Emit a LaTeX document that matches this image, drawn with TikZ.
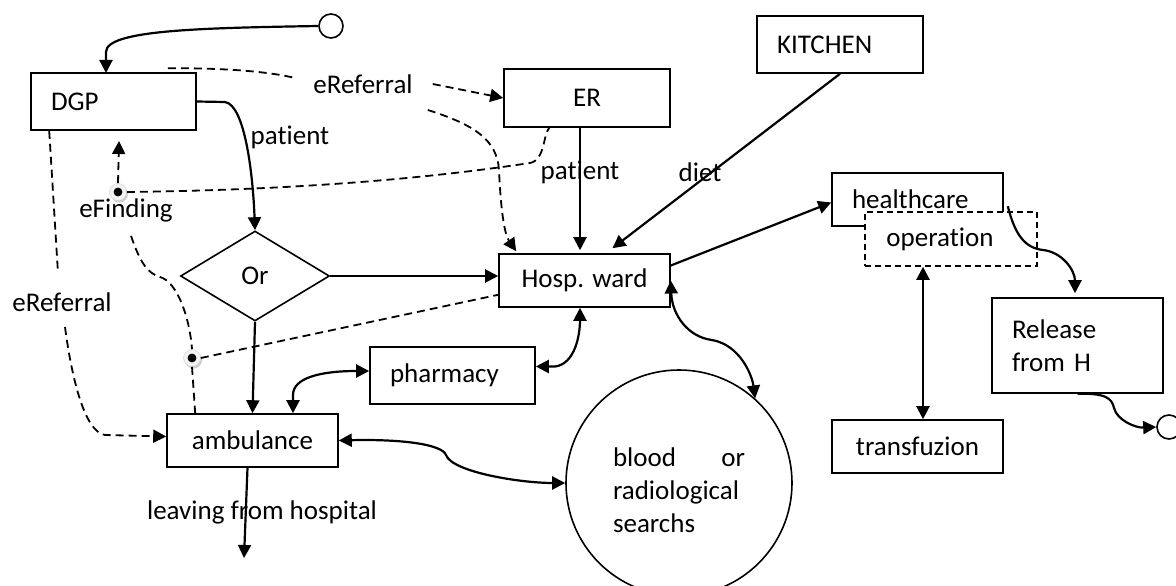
\documentclass[tikz,border=0pt]{standalone}
\usepackage{fontspec}
\setmainfont{Carlito}[Ligatures=NoCommon]
\usetikzlibrary{arrows.meta,shapes.geometric,calc}

\tikzset{
  tri/.tip={Triangle[length=13pt,width=13pt]},
  every node/.style={font=\fontsize{27}{33}\selectfont},
  box/.style={draw,line width=1.6pt,rectangle,inner sep=0pt,align=center},
  lbox/.style={draw,line width=1.6pt,rectangle,inner xsep=20pt,inner ysep=0pt,align=left},
  lab/.style={inner sep=2pt},
  conn/.style={line width=2.2pt,-tri},
  biconn/.style={line width=2.2pt,tri-tri},
  dline/.style={line width=1.8pt,dash pattern=on 8pt off 5pt},
  darr/.style={dline,-tri},
  dotn/.style={circle,inner sep=0pt,minimum size=17pt,fill=gray!10,draw=gray!30,line width=0.6pt,
    path picture={\fill[black] (path picture bounding box.center) circle (4.4pt);}},
  term/.style={circle,draw,line width=1.6pt,minimum size=24pt,inner sep=0pt}
}

\begin{document}
\begin{tikzpicture}[x=1pt,y=-1pt]
\useasboundingbox (0,0) rectangle (1176,586);

% boxes
\node[lbox,minimum width=165pt,minimum height=57pt,text width=125pt] (DGP) at (113.5,101.5) {DGP};
\node[box,minimum width=166pt,minimum height=58pt] (ER) at (587,98) {ER};
\node[lbox,minimum width=166pt,minimum height=57pt,text width=126pt] (KIT) at (840,44.5) {KITCHEN};
\node[lbox,minimum width=171pt,minimum height=53pt,text width=131pt] (hc) at (917.5,199.5) {healthcare};
\node[box,dash pattern=on 6pt off 4pt,fill=white,minimum width=172pt,minimum height=54pt] (op) at (951,239) {operation\hspace*{22pt}};
\node[lbox,minimum width=171pt,minimum height=95pt,text width=131pt] (rel) at (1077.5,345.5) {Release\\from H};
\node[box,minimum width=171pt,minimum height=53pt] (tr) at (917.5,446.5) {transfuzion};
\node[box,minimum width=171pt,minimum height=53pt] (Hosp) at (584.5,280.5) {Hosp. ward};
\node[lbox,minimum width=165pt,minimum height=57pt,text width=125pt] (ph) at (452.5,375.5) {pharmacy};
\node[box,minimum width=171pt,minimum height=53pt] (amb) at (252.5,440.5) {ambulance};
\node[draw,diamond,line width=1.6pt,inner sep=0pt,minimum width=149pt,minimum height=90pt] (Or) at (255,276) {Or};
\node[draw,circle,line width=1.6pt,inner sep=0pt,minimum size=226pt,text width=132pt,align=left] (blood) at (679,483)
  {\hbox to 132pt{\rule{0pt}{33pt}blood\hfill or}\\radiological\\searchs};
\node[term] (start) at (331,26) {};
\node[term] (end) at (1169,427) {};

% dots where eFinding flows merge
\fill[gray!40] (119.5,194) circle (8.5pt);
\node[dotn] (d1) at (118,192) {};
\fill[gray!40] (193.5,360) circle (8.5pt);
\node[dotn] (d2) at (192,358) {};

% labels
\node[lab] (lpat1) at (290,137) {patient};
\node[lab] (eref1) at (363,84) {eReferral};
\node[lab] (efl) at (126,210) {eFinding};
\node[lab] (eref2) at (62,302) {eReferral};
\node[lab] (lleave) at (262,512) {leaving from hospital};
\node[lab] (lpat2) at (580,172) {patient};
\node[lab] (ldiet) at (700,172) {diet};

% free ends
\coordinate (dgpin) at (106,73);
\coordinate (efin) at (119,141);
\coordinate (leave) at (244,558);
\coordinate (r2a) at (58,273);
\coordinate (r2b) at (65,327);

% solid flows
\draw[conn] (start.west) .. controls (200,28) and (106,30) .. (106,52) -- (dgpin);
\draw[conn] (DGP.east) -- (225,102) .. controls (245,105) and (253,175) .. (Or.north);
\draw[conn] (Or.east) -- (Or.east -| Hosp.west);
\draw[conn] (Or.south) -- (amb.north);
\draw[conn] ($(amb.south)+(-5,0)$) -- (leave);
\draw[conn] ($(ER.south)+(-7,0)$) -- ($(Hosp.north)+(-4.5,-3)$);
\draw[conn] (KIT.south) -- ($(Hosp.north)+(28,-5)$);
\draw[conn] ($(Hosp.east)+(0,-15)$) -- ($(hc.west)+(0,3)$);
\draw[conn] ($(hc.north east)+(4,34)$) .. controls (1015,235) and (1025,248) .. (1043,250)
  .. controls (1062,252) and (1075,270) .. ($(rel.north)+(-2.5,-4)$);
\draw[conn] (rel.south) .. controls (1105,393) and (1112,398) .. (1114,408)
  .. controls (1117,420) and (1135,428) .. (end.west);
\draw[biconn] ($(op.south)+(-28,0)$) -- ($(tr.north)+(5.5,0)$);
\draw[biconn] ($(amb.north)+(40.5,0)$) -- (293,395) .. controls (293,378) and (320,371) .. ($(ph.west)+(0,-4.5)$);
\draw[biconn] ($(ph.east)+(0,-9)$) -- (555,366.5) .. controls (575,364) and (580,335) .. ($(Hosp.south)+(-4.5,0)$);
\draw[biconn] (Hosp.east) .. controls (672,315) and (688,337) .. (712,340)
  .. controls (740,345) and (752,375) .. (blood.48);
\draw[biconn] (amb.east) .. controls (400,439) and (442,444) .. (446,455)
  .. controls (452,472) and (520,483) .. (blood.west);

% eReferral flows
\draw[dline] ($(DGP.north east)+(-29,-4)$) .. controls (230,68) and (270,72) .. ($(eref1.west)+(-16,-6)$);
\draw[darr] ($(eref1.east)+(18,0)$) -- (ER.west);
\draw[darr] ($(eref1.east)+(13,26)$) .. controls (475,125) and (497,140) .. (499,170)
  .. controls (501,215) and (505,235) .. ($(Hosp.north west)+(18,-2)$);
\draw[dline] ($(DGP.south west)+(19,0)$) -- (r2a);
\draw[darr] (r2b) .. controls (72,380) and (85,432) .. (105,435) -- ($(amb.west)+(0,-4)$);

% eFinding flows
\draw[darr] (d1.north) -- (efin);
\draw[dline] (d1.east) .. controls (300,190) and (430,178) .. (530,163)
  .. controls (545,160) and (543,135) .. ($(ER.south west)+(46,0)$);
\draw[dline] ($(efl.south)+(5,12)$) .. controls (140,262) and (147,273) .. (160,277)
  .. controls (178,282) and (190,320) .. (d2.north);
\draw[dline] (d2.south) -- ($(amb.north west)+(29,0)$);
\draw[dline] (d2.east) -- ($(Hosp.south west)+(0,-13)$);
\end{tikzpicture}
\end{document}
